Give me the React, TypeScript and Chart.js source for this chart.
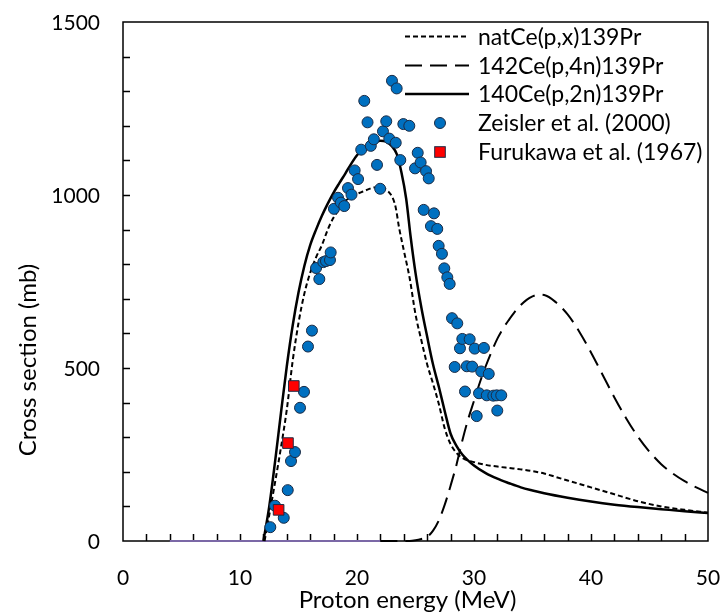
import React, { useEffect, useRef } from "react";
import { Chart, registerables } from "chart.js";
Chart.register(...registerables);

// ---- data ----
const xTickLabels = [0, 10, 20, 30, 40, 50];
const yTickLabels = [0, 500, 1000, 1500];

const seriesLabels = [
  "natCe(p,x)139Pr",
  "142Ce(p,4n)139Pr",
  "140Ce(p,2n)139Pr",
  "Zeisler et al. (2000)",
  "Furukawa et al. (1967)",
];

const natE = [12.1, 13, 13.5, 14, 14.5, 15, 15.5, 16, 16.5, 17, 17.5, 18, 18.5, 19, 19.5, 20, 20.5, 21, 21.5, 22, 22.5, 23, 23.3, 23.6, 24, 24.5, 25, 25.5, 26, 26.5, 27, 27.5, 28, 28.5, 29, 30, 31, 32, 33, 34, 35, 36, 37, 38, 39, 40, 42, 44, 46, 48, 50];
const natXS = [0, 170, 270, 380, 520, 630, 715, 775, 820, 855, 900, 935, 960, 982, 995, 1003, 1010, 1017, 1022, 1022, 1015, 995, 965, 905, 840, 760, 655, 580, 510, 455, 395, 325, 280, 255, 240, 228, 220, 215, 211, 207, 202, 195, 185, 175, 165, 155, 135, 115, 100, 90, 82];

const p4nE = [22, 24.5, 25, 25.5, 26, 26.5, 27, 27.5, 28, 28.5, 29, 29.5, 30, 30.5, 31, 31.5, 32, 32.5, 33, 33.5, 34, 34.5, 35, 35.5, 36, 37, 38, 39, 40, 41, 42, 43, 44, 45, 46, 47, 48, 49, 50];
const p4nXS = [0, 0, 2, 6, 12, 30, 60, 105, 160, 220, 290, 352, 405, 458, 505, 547, 585, 615, 640, 663, 682, 697, 707, 712, 711, 690, 655, 605, 545, 480, 415, 355, 302, 258, 222, 195, 173, 155, 139];

const p2nE = [12, 12.5, 13, 13.5, 14, 14.5, 15, 15.5, 16, 16.5, 17, 17.5, 18, 18.5, 19, 19.5, 20, 20.5, 21, 21.5, 22, 22.5, 23, 23.4, 23.8, 24.2, 24.6, 25, 25.5, 26, 26.5, 27, 27.5, 28, 28.5, 29, 30, 31, 32, 33, 34, 35, 36, 38, 40, 42, 44, 46, 48, 50];
const p2nXS = [0, 100, 230, 370, 505, 622, 718, 795, 855, 900, 940, 975, 1007, 1035, 1062, 1090, 1115, 1132, 1143, 1152, 1157, 1154, 1140, 1118, 1065, 990, 875, 775, 675, 590, 510, 445, 375, 310, 275, 250, 218, 196, 180, 167, 155, 146, 138, 125, 114, 105, 98, 92, 86, 81];

const baseE = [4, 22];
const baseXS = [0, 0];

const zeislerE = [12.59, 12.99, 13.74, 14.08, 14.36, 14.70, 15.13, 15.47, 15.81, 16.15, 16.50, 16.78, 17.12, 17.35, 17.69, 17.75, 18.03, 18.38, 18.62, 18.91, 19.23, 19.53, 19.80, 20.09, 20.36, 20.62, 20.90, 21.18, 21.44, 21.71, 21.98, 22.22, 22.50, 22.76, 22.99, 23.31, 23.39, 23.70, 23.96, 24.47, 24.96, 25.19, 25.44, 25.70, 25.90, 26.13, 26.32, 26.58, 26.86, 26.98, 27.26, 27.46, 27.72, 27.92, 28.12, 28.35, 28.57, 28.80, 29.00, 29.23, 29.38, 29.63, 29.85, 30.06, 30.23, 30.43, 30.62, 30.85, 31.09, 31.26, 31.65, 31.94, 31.99, 32.33];
const zeislerXS = [40, 102, 67, 147, 231, 257, 385, 431, 562, 608, 789, 757, 806, 809, 812, 834, 960, 992, 978, 968, 1020, 1001, 1071, 1046, 1131, 1272, 1210, 1142, 1161, 1087, 1018, 1184, 1213, 1163, 1330, 1151, 1308, 1101, 1205, 1200, 1077, 1122, 1094, 957, 1069, 1048, 910, 947, 902, 853, 830, 788, 762, 743, 644, 503, 629, 557, 584, 432, 505, 583, 504, 556, 361, 427, 490, 558, 421, 483, 420, 421, 377, 421];

const furukawaE = [13.3, 14.1, 14.6];
const furukawaXS = [90, 283, 448];

const FONT = "Lato";

const pts = (xs: number[], ys: number[]) => xs.map((x, i) => ({ x, y: ys[i] }));

const framePlugin = {
  id: "frameTicks",
  beforeDatasetsDraw(chart: any) {
    const { ctx, chartArea: a, scales } = chart;
    const xs = scales.x, ys = scales.y;
    ctx.save();
    ctx.strokeStyle = "#000";
    ctx.lineWidth = 1.5;
    ctx.strokeRect(a.left, a.top, a.right - a.left, a.bottom - a.top);
    ctx.beginPath();
    for (let v = 2; v < 50; v += 2) {
      const px = Math.round(xs.getPixelForValue(v)) + 0.5;
      ctx.moveTo(px, a.bottom);
      ctx.lineTo(px, a.bottom - 7);
    }
    for (let v = 100; v < 1500; v += 100) {
      const py = Math.round(ys.getPixelForValue(v)) + 0.5;
      ctx.moveTo(a.left, py);
      ctx.lineTo(a.left + 7, py);
    }
    ctx.stroke();

    // tick labels
    ctx.fillStyle = "#000";
    ctx.font = `21px ${FONT}`;
    ctx.textAlign = "center";
    ctx.textBaseline = "middle";
    for (const v of xTickLabels) ctx.fillText(String(v), xs.getPixelForValue(v), 578);
    ctx.textAlign = "right";
    for (const v of yTickLabels) ctx.fillText(String(v), 100, ys.getPixelForValue(v) + 1);
    ctx.restore();
  },
  afterDraw(chart: any) {
    const { ctx, chartArea: a } = chart;
    ctx.save();
    ctx.fillStyle = "#000";
    ctx.font = `24px ${FONT}`;
    ctx.textAlign = "center";
    ctx.textBaseline = "middle";
    ctx.fillText("Proton energy (MeV)", (a.left + a.right) / 2 - 8, 600);
    ctx.save();
    ctx.translate(28, 360);
    ctx.rotate(-Math.PI / 2);
    ctx.fillText("Cross section (mb)", 0, 0);
    ctx.restore();

    // legend
    const rowY = [36.5, 65.5, 94, 123, 152];
    const x0 = 405, x1 = 469, tx = 478;
    ctx.textAlign = "left";
    ctx.font = `23px ${FONT}`;
    ctx.lineWidth = 2;
    ctx.strokeStyle = "#000";
    const dashes = [[5, 3], [17, 8], []];
    for (let i = 0; i < 3; i++) {
      ctx.setLineDash(dashes[i]);
      ctx.lineWidth = i === 2 ? 2.5 : 2;
      ctx.beginPath();
      ctx.moveTo(x0, rowY[i]);
      ctx.lineTo(x1, rowY[i]);
      ctx.stroke();
    }
    ctx.setLineDash([]);
    const cx = 440;
    ctx.lineWidth = 1;
    ctx.beginPath();
    ctx.arc(cx, rowY[3], 5.5, 0, Math.PI * 2);
    ctx.fillStyle = "#0070C0";
    ctx.fill();
    ctx.strokeStyle = "#1a2b45";
    ctx.stroke();
    ctx.fillStyle = "#FF0000";
    ctx.fillRect(cx - 5.3, rowY[4] - 5.3, 10.6, 10.6);
    ctx.strokeRect(cx - 5.3, rowY[4] - 5.3, 10.6, 10.6);
    ctx.fillStyle = "#000";
    for (let i = 0; i < 5; i++) ctx.fillText(seriesLabels[i], tx, rowY[i] + 1);
    ctx.restore();
  },
};

export default function App() {
  const ref = useRef<HTMLCanvasElement>(null);
  useEffect(() => {
    const canvas = ref.current!;
    const chart = new Chart(canvas, {
      type: "scatter",
      data: {
        datasets: [
          {
            label: "base",
            data: pts(baseE, baseXS),
            showLine: true,
            borderColor: "#7b68a6",
            borderWidth: 2,
            pointRadius: 0,
            clip: false,
            order: 6,
          } as any,
          {
            label: seriesLabels[0],
            data: pts(natE, natXS),
            showLine: true,
            borderColor: "#000",
            borderWidth: 2,
            borderDash: [5, 3],
            pointRadius: 0,
            cubicInterpolationMode: "monotone",
            clip: false,
            order: 3,
          },
          {
            label: seriesLabels[1],
            data: pts(p4nE, p4nXS),
            showLine: true,
            borderColor: "#000",
            borderWidth: 2,
            borderDash: [17, 8],
            pointRadius: 0,
            cubicInterpolationMode: "monotone",
            clip: false,
            order: 4,
          },
          {
            label: seriesLabels[2],
            data: pts(p2nE, p2nXS),
            showLine: true,
            borderColor: "#000",
            borderWidth: 2.5,
            pointRadius: 0,
            cubicInterpolationMode: "monotone",
            clip: false,
            order: 2,
          },
          {
            label: seriesLabels[3],
            data: pts(zeislerE, zeislerXS),
            showLine: false,
            pointStyle: "circle",
            pointRadius: 5.5,
            pointBackgroundColor: "#0070C0",
            pointBorderColor: "#1a2b45",
            pointBorderWidth: 1,
            clip: false,
            order: 1,
          },
          {
            label: seriesLabels[4],
            data: pts(furukawaE, furukawaXS),
            showLine: false,
            pointStyle: "rect",
            pointRadius: 7.5,
            pointBackgroundColor: "#FF0000",
            pointBorderColor: "#1a2b45",
            pointBorderWidth: 1,
            clip: false,
            order: 0,
          },
        ],
      },
      options: {
        animation: false,
        responsive: false,
        devicePixelRatio: 1,
        layout: { padding: { top: 22, right: 15, left: 0, bottom: 0 } },
        plugins: { legend: { display: false }, tooltip: { enabled: false } },
        scales: {
          x: {
            type: "linear",
            min: 0,
            max: 50,
            afterFit: (s: any) => { s.height = 74; s.paddingLeft = 0; s.paddingRight = 0; },
            border: { display: false },
            grid: { display: false, drawTicks: false },
            ticks: { display: false, stepSize: 10 },
          },
          y: {
            type: "linear",
            min: 0,
            max: 1500,
            afterFit: (s: any) => { s.width = 123; s.paddingTop = 0; s.paddingBottom = 0; },
            border: { display: false },
            grid: { display: false, drawTicks: false },
            ticks: { display: false, stepSize: 500 },
          },
        },
      },
      plugins: [framePlugin],
    });
    return () => chart.destroy();
  }, []);
  return (
    <div style={{ position: "fixed", left: 0, top: 0, width: 723, height: 615, background: "#fff" }}>
      <canvas ref={ref} width={723} height={615} style={{ display: "block" }} />
    </div>
  );
}
